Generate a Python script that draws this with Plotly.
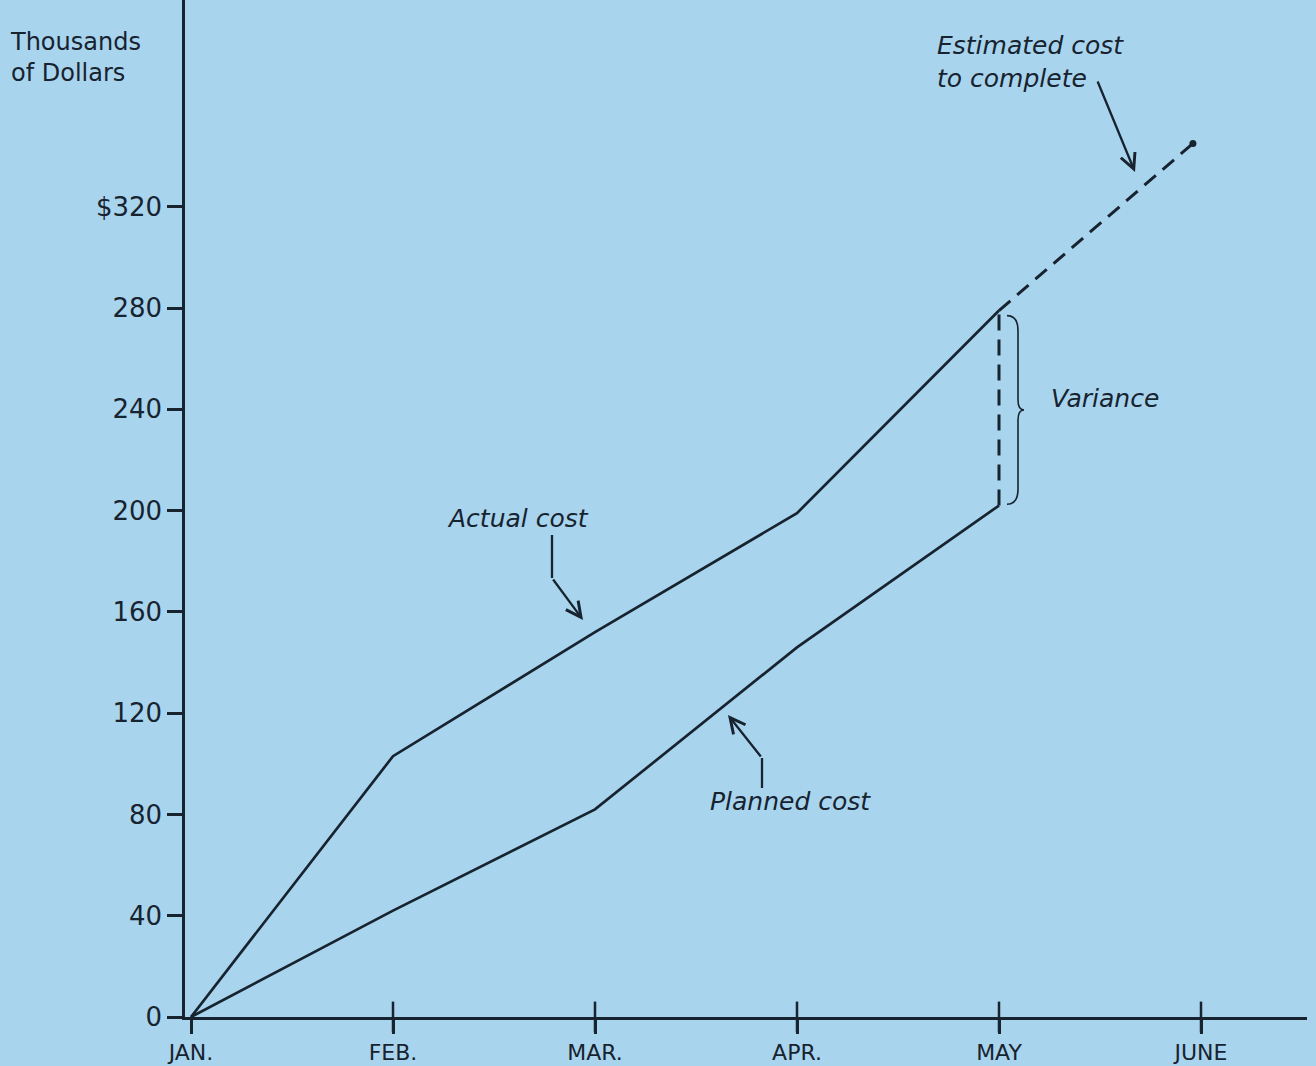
import plotly.graph_objects as go

# ---- data ----
months = ["JAN.", "FEB.", "MAR.", "APR.", "MAY", "JUNE"]
month_idx = [0, 1, 2, 3, 4, 5]
actual_cost = [0, 103, 152, 199, 279]
planned_cost = [0, 42, 82, 146, 202]
estimate_x = [4, 4.96]
estimate_cost = [279, 345]
y_ticks = [0, 40, 80, 120, 160, 200, 240, 280, 320]
y_ticktext = ["0", "40", "80", "120", "160", "200", "240", "280", "$320"]

BG = "#a9d4ee"
INK = "#17232e"
FONT = "DejaVu Sans"

# pixel helpers for decorative annotation placement
L, R, T, B = 185, 1307, 0, 1017
X0, DX = 191, 202.0
PY = 2.532


def X(px):
    return (px - X0) / DX


def Y(py):
    return (B - py) / PY


def PX(px):
    return (px - L) / (R - L)


def PYp(py):
    return (B - py) / (B - T)


fig = go.Figure()

fig.add_trace(go.Scatter(x=month_idx[:5], y=actual_cost, mode="lines",
                         line=dict(color=INK, width=2.7), hoverinfo="skip"))
fig.add_trace(go.Scatter(x=month_idx[:5], y=planned_cost, mode="lines",
                         line=dict(color=INK, width=2.7), hoverinfo="skip"))
fig.add_trace(go.Scatter(x=estimate_x, y=estimate_cost, mode="lines",
                         line=dict(color=INK, width=3, dash="15px,9px"), hoverinfo="skip"))
fig.add_trace(go.Scatter(x=[estimate_x[-1]], y=[estimate_cost[-1]], mode="markers",
                         marker=dict(color=INK, size=7), hoverinfo="skip", cliponaxis=False))
# variance dashed vertical at May
fig.add_trace(go.Scatter(x=[month_idx[4], month_idx[4]], y=[planned_cost[4], actual_cost[4]],
                         mode="lines", line=dict(color=INK, width=3, dash="16px,9px"),
                         hoverinfo="skip"))
# upper halves of x tick marks
fig.add_trace(go.Scatter(x=month_idx[1:], y=[0] * 5, mode="markers",
                         marker=dict(symbol="line-ns-open", size=22, color=INK,
                                     line=dict(color=INK, width=2.5)),
                         hoverinfo="skip", cliponaxis=False))

# bent arrow stems
fig.add_trace(go.Scatter(x=[X(552), X(552)], y=[Y(535), Y(578)], mode="lines",
                         line=dict(color=INK, width=2.3), hoverinfo="skip"))
fig.add_trace(go.Scatter(x=[X(762), X(762)], y=[Y(788), Y(758)], mode="lines",
                         line=dict(color=INK, width=2.3), hoverinfo="skip"))

# brace for variance
bx0, bx1, bx2 = X(1007), X(1018), X(1024)
yt, yb = actual_cost[4] - 2, planned_cost[4] + 0.5
ym = (yt + yb) / 2
brace = (f"M {bx0},{yt} Q {bx1},{yt} {bx1},{yt-6} L {bx1},{ym+4} "
         f"Q {bx1},{ym} {bx2},{ym} Q {bx1},{ym} {bx1},{ym-4} "
         f"L {bx1},{yb+6} Q {bx1},{yb} {bx0},{yb}")

shapes = [dict(type="path", path=brace, xref="x", yref="y",
               line=dict(color=INK, width=1.6))]

ann_font = dict(family=FONT, size=25, color=INK)
ital = lambda s: f"<i>{s}</i>"
annotations = [
    dict(xref="paper", yref="paper", x=PX(8), y=PYp(58), xanchor="left", yanchor="middle",
         text="Thousands<br>of Dollars", showarrow=False, align="left",
         font=dict(family=FONT, size=24, color=INK)),
    dict(x=X(518), y=Y(518), text=ital("Actual cost"), showarrow=False, font=ann_font),
    dict(x=X(790), y=Y(801), text=ital("Planned cost"), showarrow=False, font=ann_font),
    dict(x=X(1105), y=Y(398), text=ital("Variance"), showarrow=False,
         font=dict(family=FONT, size=25, color=INK)),
    dict(xref="paper", yref="paper", x=PX(935), y=PYp(62), xanchor="left", yanchor="middle",
         text=ital("Estimated cost<br>to complete"), showarrow=False, align="left",
         font=ann_font),
    # arrows
    dict(x=X(583), y=Y(620), ax=X(552), ay=Y(578), axref="x", ayref="y",
         showarrow=True, arrowhead=5, arrowsize=1.3, arrowwidth=2.3, arrowcolor=INK, text=""),
    dict(x=X(728), y=Y(715), ax=X(762), ay=Y(758), axref="x", ayref="y",
         showarrow=True, arrowhead=5, arrowsize=1.3, arrowwidth=2.3, arrowcolor=INK, text=""),
    dict(x=X(1135), y=Y(172), ax=X(1097), ay=Y(80), axref="x", ayref="y",
         showarrow=True, arrowhead=5, arrowsize=1.3, arrowwidth=2.3, arrowcolor=INK, text=""),
]

fig.update_layout(
    width=1316, height=1066,
    margin=dict(l=L, r=1316 - R, t=T, b=1066 - B),
    paper_bgcolor=BG, plot_bgcolor=BG,
    showlegend=False,
    shapes=shapes,
    annotations=annotations,
    xaxis=dict(range=[X(L), X(R)], tickvals=month_idx, ticktext=months,
               showgrid=False, zeroline=False, showline=True, linecolor=INK, linewidth=2.5,
               ticks="outside", ticklen=14, tickwidth=2.5, tickcolor=INK,
               tickfont=dict(family=FONT, size=22, color=INK)),
    yaxis=dict(range=[0, Y(T)], tickvals=y_ticks, ticktext=y_ticktext,
               showgrid=False, zeroline=False, showline=True, linecolor=INK, linewidth=2.5,
               ticks="outside", ticklen=15, tickwidth=2.5, tickcolor=INK,
               tickfont=dict(family=FONT, size=26, color=INK)),
)

fig.write_html(
    "out.html",
    config={"displayModeBar": False},
    post_script=("document.body.style.margin='0';"
                 "document.body.style.overflow='hidden';"
                 f"document.body.style.background='{BG}';"),
)
